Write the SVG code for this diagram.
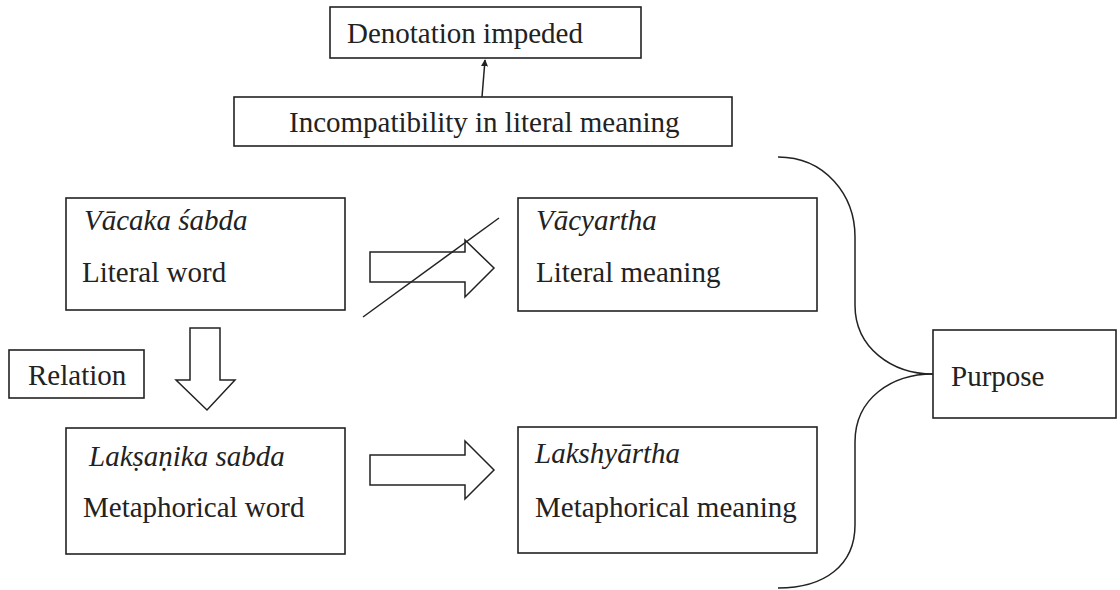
<svg xmlns="http://www.w3.org/2000/svg" width="1120" height="590" viewBox="0 0 1120 590">
  <style>
    .box { fill: #fff; stroke: #222; stroke-width: 1.6; }
    .line { fill: none; stroke: #222; stroke-width: 1.5; }
    .hollow { fill: #fff; stroke: #222; stroke-width: 1.5; stroke-linejoin: miter; }
    text { font-family: "Liberation Serif", "Times New Roman", serif; font-size: 29px; fill: #222; }
    .it { font-style: italic; }
  </style>
  <defs>
    <marker id="head" viewBox="0 0 10 10" refX="9" refY="5" markerWidth="7" markerHeight="7" markerUnits="userSpaceOnUse" orient="auto">
      <path d="M0,0 L10,5 L0,10 Z" fill="#222"/>
    </marker>
  </defs>

  <rect width="1120" height="590" fill="#fff"/>

  <!-- connectors -->
  <g id="connectors">
    <!-- incompatibility leads to impeded denotation -->
    <line class="line" x1="482" y1="97" x2="485" y2="60" marker-end="url(#head)"/>
    <!-- block arrow: literal word to literal meaning (struck through) -->
    <path class="hollow" d="M370,252 L465,252 L465,240 L494,268 L465,297 L465,282 L370,282 Z"/>
    <line class="line" x1="363" y1="317" x2="499" y2="218"/>
    <!-- block arrow: relation leads down to metaphorical word -->
    <path class="hollow" d="M190,328 L220,328 L220,380 L235,380 L207,410 L176,380 L190,380 Z"/>
    <!-- block arrow: metaphorical word to metaphorical meaning -->
    <path class="hollow" d="M370,455 L465,455 L465,441 L494,470 L465,499 L465,485 L370,485 Z"/>
    <!-- brace gathering both meanings into purpose -->
    <path class="line" d="M778,157 C825,157 855,195 855,237 L855,305 C855,348 892,374 933,374"/>
    <path class="line" d="M933,374 C892,374 855,398 855,442 L855,525 C855,565 825,588 778,588"/>
  </g>

  <g id="denotation">
    <rect class="box" x="330" y="7" width="311" height="51"/>
    <text x="347" y="43">Denotation impeded</text>
  </g>

  <g id="incompatibility">
    <rect class="box" x="234" y="97" width="498" height="49"/>
    <text x="289" y="132">Incompatibility in literal meaning</text>
  </g>

  <g id="vacaka">
    <rect class="box" x="66" y="198" width="279" height="112"/>
    <text class="it" x="84" y="230">Vācaka śabda</text>
    <text x="82" y="282">Literal word</text>
  </g>

  <g id="vacyartha">
    <rect class="box" x="518" y="198" width="299" height="113"/>
    <text class="it" x="536" y="230">Vācyartha</text>
    <text x="536" y="282">Literal meaning</text>
  </g>

  <g id="relation">
    <rect class="box" x="9" y="350" width="135" height="48"/>
    <text x="28" y="385">Relation</text>
  </g>

  <g id="laksanika">
    <rect class="box" x="66" y="428" width="279" height="126"/>
    <text class="it" x="89" y="466">Lakṣaṇika sabda</text>
    <text x="83" y="517">Metaphorical word</text>
  </g>

  <g id="lakshyartha">
    <rect class="box" x="518" y="427" width="299" height="126"/>
    <text class="it" x="535" y="463">Lakshyārtha</text>
    <text x="535" y="517">Metaphorical meaning</text>
  </g>

  <g id="purpose">
    <rect class="box" x="933" y="330" width="183" height="88"/>
    <text x="951" y="386">Purpose</text>
  </g>
</svg>
